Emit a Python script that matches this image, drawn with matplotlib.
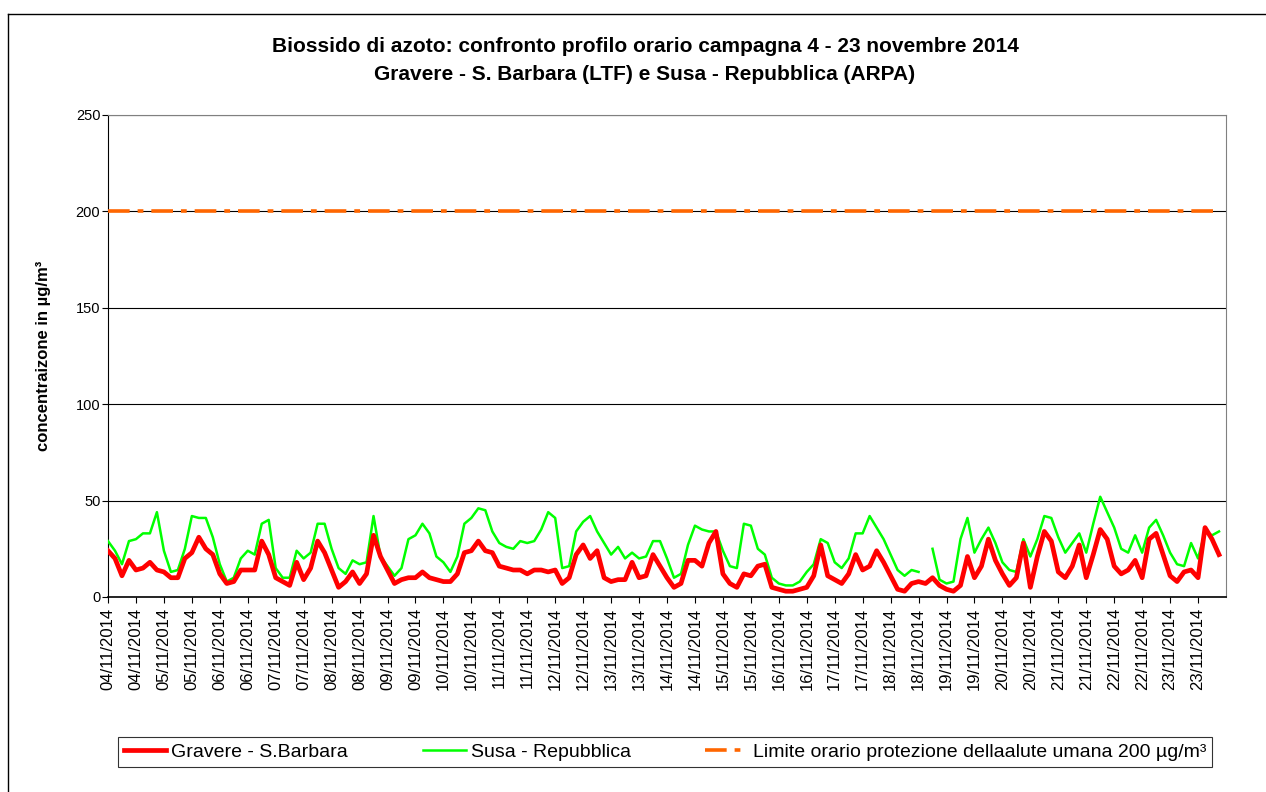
import numpy as np
import matplotlib
matplotlib.use("Agg")
import matplotlib.pyplot as plt
from matplotlib.lines import Line2D

plt.rcParams['font.family'] = ['Liberation Sans', 'DejaVu Sans']

# NO2 hourly profile, every 3 hours (8 values per day, 4-23 Nov 2014)
days = list(range(4, 24))

gravere = [
    24, 20, 11, 19, 14, 15, 18, 14,
    13, 10, 10, 20, 23, 31, 25, 22,
    12, 7, 8, 14, 14, 14, 29, 22,
    10, 8, 6, 18, 9, 15, 29, 23,
    14, 5, 8, 13, 7, 12, 32, 21,
    14, 7, 9, 10, 10, 13, 10, 9,
    8, 8, 12, 23, 24, 29, 24, 23,
    16, 15, 14, 14, 12, 14, 14, 13,
    14, 7, 10, 22, 27, 20, 24, 10,
    8, 9, 9, 18, 10, 11, 22, 16,
    10, 5, 7, 19, 19, 16, 28, 34,
    12, 7, 5, 12, 11, 16, 17, 5,
    4, 3, 3, 4, 5, 11, 27, 11,
    9, 7, 12, 22, 14, 16, 24, 18,
    11, 4, 3, 7, 8, 7, 10, 6,
    4, 3, 6, 21, 10, 16, 30, 19,
    12, 6, 10, 28, 5, 21, 34, 29,
    13, 10, 16, 27, 10, 22, 35, 30,
    16, 12, 14, 19, 10, 30, 33, 22,
    11, 8, 13, 14, 10, 36, 30, 22,
]

susa = [
    29, 24, 17, 29, 30, 33, 33, 44,
    24, 13, 14, 25, 42, 41, 41, 31,
    17, 8, 10, 20, 24, 22, 38, 40,
    15, 10, 10, 24, 20, 23, 38, 38,
    25, 15, 12, 19, 17, 18, 42, 21,
    16, 11, 15, 30, 32, 38, 33, 21,
    18, 13, 21, 38, 41, 46, 45, 34,
    28, 26, 25, 29, 28, 29, 35, 44,
    41, 15, 16, 34, 39, 42, 34, 28,
    22, 26, 20, 23, 20, 21, 29, 29,
    20, 10, 12, 27, 37, 35, 34, 34,
    24, 16, 15, 38, 37, 25, 22, 10,
    7, 6, 6, 8, 13, 17, 30, 28,
    18, 15, 20, 33, 33, 42, 36, 30,
    22, 14, 11, 14, 13, np.nan, 25, 9,
    7, 8, 30, 41, 23, 30, 36, 28,
    18, 14, 13, 30, 21, 30, 42, 41,
    31, 23, 28, 33, 23, 38, 52, 44,
    36, 25, 23, 32, 23, 36, 40, 32,
    23, 17, 16, 28, 20, 34, 32, 34,
]

limit_value = 200

series_labels = ["Gravere - S.Barbara", "Susa - Repubblica",
                 "Limite orario protezione dellaalute umana 200 µg/m³"]

t = np.arange(len(gravere)) * 3 / 24.0  # days since 04/11 00:00
tick_pos = np.arange(0, len(days), 0.5)
tick_labels = [f"{d:02d}/11/2014" for d in days for _ in range(2)]

fig = plt.figure(figsize=(12.66, 7.92), dpi=100)
ax = fig.add_axes([108 / 1266, 1 - 597 / 792, (1226 - 108) / 1266, (597 - 115) / 792])

ax.plot(t, [limit_value] * len(t), color='#FF6600', lw=2.6,
        dashes=(6.0, 2.2, 1.6, 2.2), label=series_labels[2], zorder=3)
ax.plot(t, susa, color='#00FF00', lw=1.8, label=series_labels[1], zorder=4)
ax.plot(t, gravere, color='#FF0000', lw=3.4, label=series_labels[0], zorder=5)

ax.set_xlim(0, len(days))
ax.set_ylim(0, 250)
ax.set_yticks(range(0, 251, 50))
ax.yaxis.grid(True, color='black', lw=0.8)
ax.set_axisbelow(True)
ax.set_xticks(tick_pos)
ax.set_xticklabels(tick_labels, rotation=90, fontsize=12)
ax.tick_params(axis='y', labelsize=10.5, length=4, direction='out', pad=1.5)
ax.tick_params(axis='x', length=4, direction='out')
for side in ('top', 'right'):
    ax.spines[side].set_color('#808080')
ax.spines['left'].set_color('black')
ax.spines['bottom'].set_color('black')
ax.spines['bottom'].set_linewidth(1.2)

ax.set_ylabel("concentraizone in µg/m³", fontsize=12, fontweight='bold')
ax.yaxis.set_label_coords(-0.051, 0.5)

fig.text(645 / 1266, 1 - 47 / 792,
         "Biossido di azoto: confronto profilo orario campagna 4 - 23 novembre 2014",
         ha='center', va='center', fontsize=15, fontweight='bold')
fig.text(645 / 1266, 1 - 75 / 792,
         "Gravere - S. Barbara (LTF) e Susa - Repubblica (ARPA)",
         ha='center', va='center', fontsize=15, fontweight='bold')

h, lab = ax.get_legend_handles_labels()
order = [2, 1, 0]
leg = fig.legend([h[i] for i in order], [lab[i] for i in order], ncol=3,
                 loc='center', bbox_to_anchor=(665 / 1266, 1 - 752 / 792),
                 frameon=True, fancybox=False, edgecolor='black', fontsize=14,
                 handlelength=2.2, handletextpad=0.25, columnspacing=3.85,
                 borderpad=0.3)
leg.get_frame().set_linewidth(0.8)

# outer chart border
fig.add_artist(Line2D([8 / 1266, 1.0], [1 - 14 / 792, 1 - 14 / 792], color='black', lw=1))
fig.add_artist(Line2D([8 / 1266, 8 / 1266], [0, 1 - 14 / 792], color='black', lw=1))

fig.savefig("out.png", dpi=100)
